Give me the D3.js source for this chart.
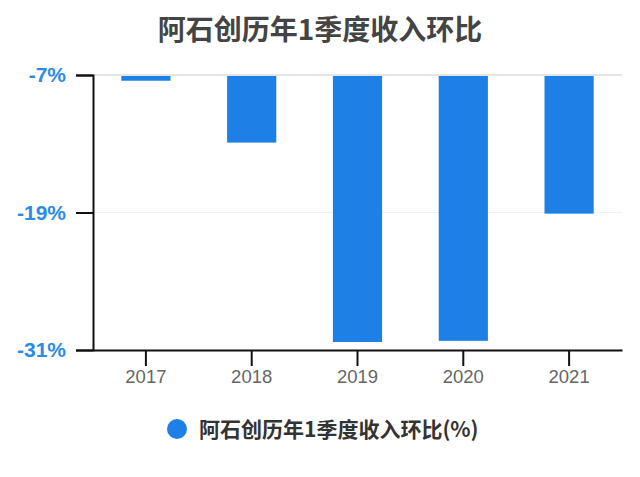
<!DOCTYPE html>
<html>
<head>
<meta charset="utf-8">
<script src="https://cdn.jsdelivr.net/npm/d3@7"></script>
<style>
  body { margin: 0; background: #fff; }
</style>
</head>
<body>
<svg width="640" height="477"></svg>
<script>
const years = ['2017', '2018', '2019', '2020', '2021'];
const values = [-7.5, -12.9, -30.3, -30.2, -19.1];
const yTicks = [-7, -19, -31];
const title = '阿石创历年1季度收入环比';
const seriesName = '阿石创历年1季度收入环比(%)';

const cjk = '"Noto Sans CJK SC", "Liberation Sans", sans-serif';
const latin = '"Liberation Sans", Arial, sans-serif';

const svg = d3.select('svg');
const margin = { top: 75, right: 18, bottom: 127, left: 93 };
const width = 640 - margin.left - margin.right;
const height = 477 - margin.top - margin.bottom;
const g = svg.append('g')
  .attr('transform', `translate(${margin.left},${margin.top})`);

const x = d3.scaleBand()
  .domain(years)
  .range([0, width])
  .paddingInner(0.535)
  .paddingOuter(0.2675);
const y = d3.scaleLinear()
  .domain([-7, -31])
  .range([0, height]);

svg.append('text')
  .attr('x', 320)
  .attr('y', 40)
  .attr('text-anchor', 'middle')
  .style('font-family', cjk)
  .attr('font-size', 28)
  .attr('font-weight', 'bold')
  .attr('fill', '#444')
  .text(title);

// grid
g.selectAll('.grid')
  .data(yTicks.slice(0, 2))
  .enter().append('line')
  .attr('x1', 0)
  .attr('x2', width)
  .attr('y1', d => y(d))
  .attr('y2', d => y(d))
  .attr('stroke', (d, i) => i === 0 ? '#e6e6e6' : '#f0f0f0')
  .attr('stroke-width', (d, i) => i === 0 ? 2 : 1);

g.selectAll('.bar')
  .data(years)
  .enter().append('rect')
  .attr('x', d => x(d))
  .attr('y', y(-7) + 1)
  .attr('width', x.bandwidth())
  .attr('height', (d, i) => y(values[i]) - y(-7) - 1)
  .attr('fill', '#1e80e6');

const yAxis = g.append('g')
  .call(d3.axisLeft(y).tickValues(yTicks).tickSize(17).tickFormat(d => d + '%'));
yAxis.select('.domain').attr('stroke', '#111').attr('stroke-width', 2);
yAxis.selectAll('.tick line').attr('stroke', '#111').attr('stroke-width', 2);
yAxis.selectAll('.tick text')
  .attr('x', -27)
  .attr('fill', '#2b8be8')
  .attr('font-size', 21)
  .attr('font-weight', 'bold')
  .style('font-family', latin);

const xAxis = g.append('g')
  .attr('transform', `translate(0,${height})`)
  .call(d3.axisBottom(x).tickSize(16).tickSizeOuter(0));
xAxis.select('.domain').attr('stroke', '#111').attr('stroke-width', 2);
xAxis.selectAll('.tick line').attr('stroke', '#111').attr('stroke-width', 2);
xAxis.selectAll('.tick text')
  .attr('y', 20)
  .attr('fill', '#666')
  .attr('font-size', 18.5)
  .style('font-family', latin);

const legend = svg.append('g');
legend.append('circle')
  .attr('cx', 177)
  .attr('cy', 429)
  .attr('r', 10)
  .attr('fill', '#1e80e6');
legend.append('text')
  .attr('x', 199)
  .attr('y', 437)
  .style('font-family', cjk)
  .attr('font-size', 21)
  .attr('font-weight', 'bold')
  .attr('fill', '#333')
  .text(seriesName);
</script>
</body>
</html>
